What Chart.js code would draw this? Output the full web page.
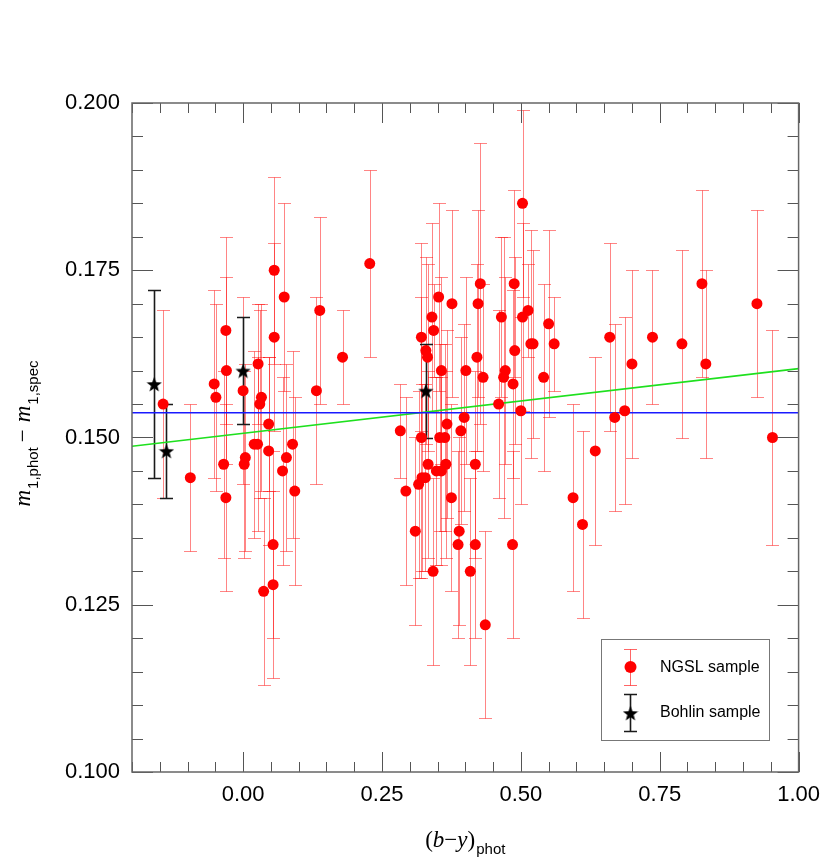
<!DOCTYPE html>
<html lang="en">
<head>
<meta charset="UTF-8">
<title>m1 phot - m1 spec vs (b-y)</title>
<script src="https://cdn.jsdelivr.net/npm/chart.js"></script>
<style>
  body { margin: 0; background: #fff; }
</style>
</head>
<body>
<canvas id="chart" width="830" height="861"></canvas>
<script>
// NGSL sample: (b-y)phot, m1 difference and its error
const ngslX = [
  -0.144, -0.095, -0.052, -0.049, -0.031, -0.030, -0.035, -0.031, 0.000, 0.004,
  0.002, 0.027, 0.033, 0.030, 0.020, 0.026, 0.046, 0.046, 0.054, 0.037,
  0.054, 0.056, 0.056, 0.074, 0.071, 0.078, 0.089, 0.093, 0.132, 0.138,
  0.179, 0.228, 0.283, 0.321, 0.329, 0.332, 0.321, 0.340, 0.343, 0.352,
  0.357, 0.376, 0.401, 0.427, 0.423, 0.421, 0.432, 0.398, 0.367, 0.392,
  0.354, 0.363, 0.293, 0.310, 0.316, 0.322, 0.328, 0.333, 0.342, 0.348,
  0.357, 0.365, 0.375, 0.389, 0.387, 0.418, 0.418, 0.409, 0.436, 0.503,
  0.488, 0.465, 0.503, 0.513, 0.489, 0.518, 0.522, 0.550, 0.560, 0.541,
  0.472, 0.469, 0.486, 0.460, 0.500, 0.485, 0.594, 0.611, 0.634, 0.660,
  0.669, 0.687, 0.700, 0.737, 0.790, 0.826, 0.833, 0.925, 0.953
];
const ngslY = [
  0.155, 0.144, 0.158, 0.156, 0.166, 0.160, 0.146, 0.141, 0.157, 0.147,
  0.146, 0.161, 0.156, 0.155, 0.149, 0.149, 0.152, 0.148, 0.134, 0.127,
  0.128, 0.175, 0.165, 0.171, 0.145, 0.147, 0.149, 0.142, 0.157, 0.169,
  0.162, 0.176, 0.151, 0.165, 0.163, 0.162, 0.150, 0.168, 0.166, 0.171,
  0.160, 0.170, 0.160, 0.173, 0.170, 0.162, 0.159, 0.153, 0.152, 0.151,
  0.150, 0.150, 0.142, 0.136, 0.143, 0.144, 0.144, 0.146, 0.130, 0.145,
  0.145, 0.146, 0.141, 0.136, 0.134, 0.146, 0.134, 0.130, 0.122, 0.185,
  0.173, 0.168, 0.168, 0.169, 0.163, 0.164, 0.164, 0.167, 0.164, 0.159,
  0.160, 0.159, 0.158, 0.155, 0.154, 0.134, 0.141, 0.137, 0.148, 0.165,
  0.153, 0.154, 0.161, 0.165, 0.164, 0.173, 0.161, 0.170, 0.150
];
const ngslErr = [
  0.014, 0.011, 0.014, 0.014, 0.014, 0.014, 0.014, 0.014, 0.014, 0.014,
  0.014, 0.009, 0.014, 0.014, 0.014, 0.013, 0.010, 0.014, 0.014, 0.014,
  0.014, 0.014, 0.014, 0.014, 0.014, 0.014, 0.014, 0.014, 0.014, 0.014,
  0.007, 0.014, 0.007, 0.014, 0.014, 0.014, 0.021, 0.014, 0.007, 0.014,
  0.014, 0.014, 0.014, 0.021, 0.014, 0.014, 0.014, 0.014, 0.014, 0.014,
  0.014, 0.014, 0.014, 0.014, 0.014, 0.014, 0.014, 0.014, 0.014, 0.014,
  0.014, 0.014, 0.014, 0.014, 0.014, 0.014, 0.014, 0.014, 0.014, 0.014,
  0.014, 0.012, 0.014, 0.007, 0.014, 0.017, 0.014, 0.014, 0.007, 0.014,
  0.014, 0.021, 0.014, 0.014, 0.014, 0.014, 0.014, 0.014, 0.014, 0.014,
  0.014, 0.014, 0.014, 0.010, 0.014, 0.014, 0.014, 0.014, 0.016
];

// Bohlin sample
const bohlinX = [-0.160, -0.138, 0.000, 0.329];
const bohlinY = [0.158, 0.148, 0.160, 0.157];
const bohlinErr = [0.014, 0.007, 0.008, 0.007];

// mean offset and linear fit
const meanX = [-0.2, 1.0];
const meanY = [0.1537, 0.1537];
const fitX = [-0.2, 1.0];
const fitY = [0.1487, 0.1603];

const xTicks = [0.00, 0.25, 0.50, 0.75, 1.00];
const yTicks = [0.100, 0.125, 0.150, 0.175, 0.200];

const SANS = '"Liberation Sans", Arial, sans-serif';
const SERIF = '"Liberation Serif", "Times New Roman", serif';

function makeStar(size, color) {
    const c = document.createElement('canvas');
    c.width = c.height = size;
    const g = c.getContext('2d');
    const r = size / 2, ri = r * 0.42;
    g.beginPath();
    for (let i = 0; i < 10; i++) {
        const rad = i % 2 ? ri : r;
        const a = -Math.PI / 2 + i * Math.PI / 5;
        g.lineTo(r + rad * Math.cos(a), r + 1 + rad * Math.sin(a));
    }
    g.closePath();
    g.fillStyle = color;
    g.fill();
    return c;
}
const star = makeStar(16, '#000');

function drawBars(ctx, xs, ys, xv, yv, ev, color, width, cap) {
    ctx.strokeStyle = color;
    ctx.lineWidth = width;
    for (let i = 0; i < xv.length; i++) {
        const px = Math.round(xs.getPixelForValue(xv[i])) + 0.5;
        const top = Math.round(ys.getPixelForValue(yv[i] + ev[i])) + 0.5;
        const bot = Math.round(ys.getPixelForValue(yv[i] - ev[i])) + 0.5;
        ctx.beginPath();
        ctx.moveTo(px, top); ctx.lineTo(px, bot);
        ctx.moveTo(px - cap, top); ctx.lineTo(px + cap, top);
        ctx.moveTo(px - cap, bot); ctx.lineTo(px + cap, bot);
        ctx.stroke();
    }
}

const errorBars = {
    id: 'errorBars',
    beforeDatasetsDraw(chart) {
        const {ctx, chartArea: a, scales: {x, y}} = chart;
        ctx.save();
        ctx.beginPath();
        ctx.rect(a.left, a.top, a.right - a.left, a.bottom - a.top);
        ctx.clip();
        drawBars(ctx, x, y, ngslX, ngslY, ngslErr, 'rgba(255,0,0,0.48)', 1, 6.5);
        drawBars(ctx, x, y, bohlinX, bohlinY, bohlinErr, '#1a1a1a', 1.6, 6.5);
        ctx.restore();
    }
};

// frame with inward ticks on all four sides
const frame = {
    id: 'frame',
    afterDatasetsDraw(chart) {
        const {ctx, chartArea: a, scales: {x, y}} = chart;
        ctx.save();
        ctx.strokeStyle = '#555';
        ctx.lineWidth = 1;
        ctx.beginPath();
        for (let k = 0; k <= 24; k++) {
            const v = -0.2 + k * 0.05;
            const px = Math.round(x.getPixelForValue(v)) + 0.5;
            const len = Math.abs(v / 0.25 - Math.round(v / 0.25)) < 1e-6 ? 20 : 10;
            ctx.moveTo(px, a.bottom); ctx.lineTo(px, a.bottom - len);
            ctx.moveTo(px, a.top); ctx.lineTo(px, a.top + len);
        }
        for (let k = 0; k <= 20; k++) {
            const v = 0.1 + k * 0.005;
            const py = Math.round(y.getPixelForValue(v)) + 0.5;
            const len = k % 5 === 0 ? 21 : 11;
            ctx.moveTo(a.left, py); ctx.lineTo(a.left + len, py);
            ctx.moveTo(a.right, py); ctx.lineTo(a.right - len, py);
        }
        ctx.stroke();
        ctx.strokeStyle = '#666';
        ctx.lineWidth = 1.5;
        ctx.strokeRect(a.left, a.top, a.right - a.left, a.bottom - a.top);
        ctx.restore();
    }
};

function drawParts(ctx, parts, x0, y0) {
    let x = x0;
    parts.forEach(p => {
        ctx.font = p.f;
        ctx.fillText(p.t, x, y0 + (p.dy || 0));
        x += ctx.measureText(p.t).width + (p.gap || 0);
    });
}
function partsWidth(ctx, parts) {
    let w = 0;
    parts.forEach(p => { ctx.font = p.f; w += ctx.measureText(p.t).width + (p.gap || 0); });
    return w;
}

const titles = {
    id: 'titles',
    afterDraw(chart) {
        const {ctx, chartArea: a} = chart;
        const big = '23px ' + SERIF, ital = 'italic 23px ' + SERIF, sub = '15px ' + SANS;
        ctx.save();
        ctx.fillStyle = '#000';
        ctx.textBaseline = 'alphabetic';
        ctx.textAlign = 'left';

        const xt = [
            {t: '(', f: big}, {t: 'b', f: ital}, {t: '\u2212', f: big},
            {t: 'y', f: ital}, {t: ')', f: big, gap: 1}, {t: 'phot', f: sub, dy: 7}
        ];
        const cx = (a.left + a.right) / 2;
        drawParts(ctx, xt, cx - partsWidth(ctx, xt) / 2, 847);

        const yt = [
            {t: 'm', f: ital, gap: 1}, {t: '1,phot', f: sub, dy: 8, gap: 5},
            {t: '\u2212', f: big, gap: 7}, {t: 'm', f: ital, gap: 1}, {t: '1,spec', f: sub, dy: 8}
        ];
        ctx.translate(30, (a.top + a.bottom) / 2 - 4);
        ctx.rotate(-Math.PI / 2);
        drawParts(ctx, yt, -partsWidth(ctx, yt) / 2, 0);
        ctx.restore();
    }
};

const legendBox = {
    id: 'legendBox',
    afterDraw(chart) {
        const {ctx} = chart;
        ctx.save();
        ctx.strokeStyle = '#777';
        ctx.lineWidth = 1;
        ctx.strokeRect(601.5, 639.5, 168, 101);

        ctx.strokeStyle = 'rgba(255,0,0,0.6)';
        ctx.beginPath();
        ctx.moveTo(630.5, 649.5); ctx.lineTo(630.5, 685.5);
        ctx.moveTo(624, 649.5); ctx.lineTo(637, 649.5);
        ctx.moveTo(624, 685.5); ctx.lineTo(637, 685.5);
        ctx.stroke();
        ctx.fillStyle = '#ff0000';
        ctx.beginPath();
        ctx.arc(630.5, 667, 6, 0, Math.PI * 2);
        ctx.fill();

        ctx.strokeStyle = '#1a1a1a';
        ctx.lineWidth = 1.6;
        ctx.beginPath();
        ctx.moveTo(630.5, 694.5); ctx.lineTo(630.5, 731.5);
        ctx.moveTo(624, 694.5); ctx.lineTo(637, 694.5);
        ctx.moveTo(624, 731.5); ctx.lineTo(637, 731.5);
        ctx.stroke();
        ctx.drawImage(star, 630.5 - 8, 713 - 8);

        ctx.fillStyle = '#000';
        ctx.font = '16px ' + SANS;
        ctx.textBaseline = 'alphabetic';
        ctx.fillText('NGSL sample', 660, 672);
        ctx.fillText('Bohlin sample', 660, 717);
        ctx.restore();
    }
};

const ngslPoints = ngslX.map((v, i) => ({x: v, y: ngslY[i]}));
const bohlinPoints = bohlinX.map((v, i) => ({x: v, y: bohlinY[i]}));
const meanLine = meanX.map((v, i) => ({x: v, y: meanY[i]}));
const fitLine = fitX.map((v, i) => ({x: v, y: fitY[i]}));

new Chart(document.getElementById('chart'), {
    type: 'scatter',
    data: {
        datasets: [
            {
                label: 'NGSL sample',
                data: ngslPoints,
                backgroundColor: '#ff0000',
                borderWidth: 0,
                pointRadius: 5.5
            },
            {
                label: 'Bohlin sample',
                data: bohlinPoints,
                pointStyle: star,
                pointRadius: 8
            },
            {
                type: 'line',
                data: meanLine,
                borderColor: '#1a1aff',
                borderWidth: 1.6,
                pointRadius: 0
            },
            {
                type: 'line',
                data: fitLine,
                borderColor: '#1ee01e',
                borderWidth: 1.6,
                pointRadius: 0
            }
        ]
    },
    options: {
        responsive: false,
        animation: false,
        events: [],
        layout: {padding: {left: 0, top: 103, right: 27, bottom: 0}},
        plugins: {legend: {display: false}, tooltip: {enabled: false}},
        scales: {
            x: {
                type: 'linear',
                min: -0.2,
                max: 1.0,
                grid: {display: false, drawTicks: false},
                border: {display: false},
                afterFit: s => { s.height = 89; },
                afterBuildTicks: s => { s.ticks = xTicks.map(v => ({value: v})); },
                ticks: {
                    padding: 10,
                    color: '#000',
                    font: {family: SANS, size: 22},
                    callback: v => Number(v).toFixed(2)
                }
            },
            y: {
                type: 'linear',
                min: 0.1,
                max: 0.2,
                grid: {display: false, drawTicks: false},
                border: {display: false},
                afterFit: s => { s.width = 132; },
                afterBuildTicks: s => { s.ticks = yTicks.map(v => ({value: v})); },
                ticks: {
                    padding: 12,
                    color: '#000',
                    font: {family: SANS, size: 22},
                    callback: v => Number(v).toFixed(3)
                }
            }
        }
    },
    plugins: [errorBars, frame, titles, legendBox]
});
</script>
</body>
</html>
